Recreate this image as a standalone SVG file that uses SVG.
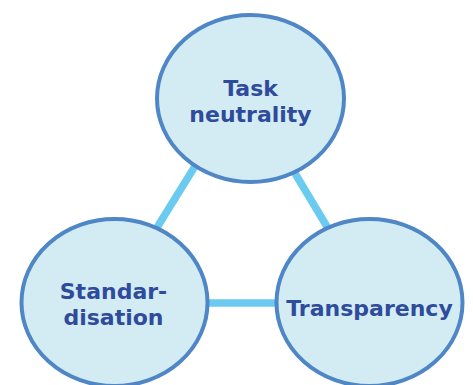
<svg xmlns="http://www.w3.org/2000/svg" width="473" height="385" viewBox="0 0 473 385">
<style>
.node ellipse{fill:#D3ECF4;stroke:#4F86C6;stroke-width:4}
.node text{font-family:"DejaVu Sans",Verdana,sans-serif;font-weight:bold;font-size:22px;fill:#2F4B9B;text-anchor:middle}
.conn line{stroke:#6ACAF0;stroke-width:7.5}
</style>
<rect width="473" height="385" fill="#FFFFFF"/>
<g id="connectors" class="conn">
<line x1="205" y1="150" x2="140" y2="255"/>
<line x1="281" y1="150" x2="344" y2="255"/>
<line x1="180" y1="303" x2="300" y2="303"/>
</g>
<g id="task-neutrality" class="node">
<ellipse cx="250.5" cy="98.5" rx="93.5" ry="83.5"/>
<text x="250.5" y="95.5">Task</text>
<text x="250.5" y="121.5">neutrality</text>
</g>
<g id="standardisation" class="node">
<ellipse cx="114.5" cy="302.5" rx="93" ry="83.5"/>
<text x="113.5" y="299">Standar-</text>
<text x="113.5" y="325">disation</text>
</g>
<g id="transparency" class="node">
<ellipse cx="369.5" cy="302.5" rx="93" ry="83.5"/>
<text x="369.5" y="316">Transparency</text>
</g>
</svg>
